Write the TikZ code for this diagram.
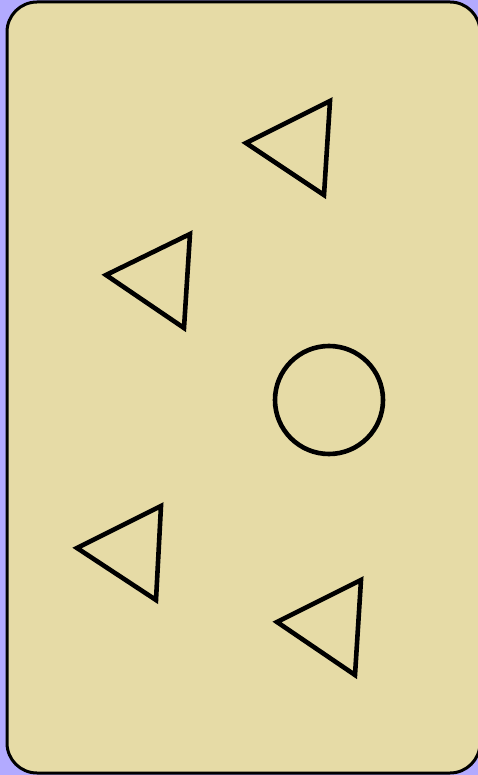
\documentclass[tikz,border=0pt]{standalone}
\definecolor{bgblue}{RGB}{178,170,255}
\definecolor{cardfill}{RGB}{230,219,166}
\begin{document}
\begin{tikzpicture}[x=1pt,y=-1pt,
  shape line/.style={draw=black,line width=4.6pt,line join=miter},
  card/.style={draw=black,line width=3pt,fill=cardfill,rounded corners=30pt}]
\useasboundingbox (0,0) rectangle (478,775);
\fill[bgblue] (0,0) rectangle (478,775);
\draw[card] (7,2) rectangle (480,773);
\draw[shape line] (246,143) -- (330,101) -- (324,195) -- cycle;
\draw[shape line] (106,275) -- (190,234) -- (184,328) -- cycle;
\draw[shape line] (77,548) -- (161,506) -- (156,600) -- cycle;
\draw[shape line] (277,622) -- (361,580) -- (355,675) -- cycle;
\draw[shape line] (329,400) circle (54);
\end{tikzpicture}
\end{document}
